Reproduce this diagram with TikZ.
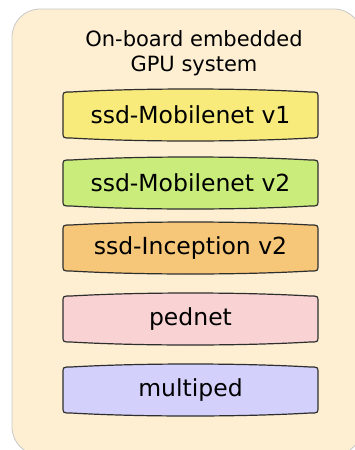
\documentclass[tikz,border=0pt]{standalone}
\usepackage{fontspec}
\setmainfont{DejaVu Sans}
\definecolor{outerfill}{HTML}{FEEFD3}
\definecolor{outerline}{HTML}{C8C8C8}
\definecolor{cA}{HTML}{F8EB7B}
\definecolor{cB}{HTML}{C9EC7B}
\definecolor{cC}{HTML}{F6C679}
\definecolor{cD}{HTML}{F9D3D3}
\definecolor{cE}{HTML}{D3D0FC}
\definecolor{edge}{HTML}{2E2E2E}
\tikzset{
  boxline/.style={draw=edge, line width=1.2pt},
  boxtext/.style={font=\fontsize{23.5}{28}\selectfont, text=black, inner sep=0pt},
}
\newcommand\gbox[4]{%
  \path[boxline, fill=#3]
    (63,#2+17) -- (63,#2-17) .. controls (63,#2-23) .. (71,#2-23)
    .. controls (140,#2-27) and (241,#2-27) .. (310,#2-23)
    .. controls (318,#2-23) .. (318,#2-17) -- (318,#2+17)
    .. controls (318,#2+23) .. (310,#2+23)
    .. controls (241,#2+27) and (140,#2+27) .. (71,#2+23)
    .. controls (63,#2+23) .. cycle;
  \node[boxtext] (#1) at (190.5,#2) {#4};
}
\begin{document}
\begin{tikzpicture}[x=1pt,y=-1pt]
\useasboundingbox (0,0) rectangle (355,450);
\draw[fill=outerfill, draw=outerline, line width=0.8pt, rounded corners=28pt] (12,9) rectangle (362,455);
\node[font=\fontsize{21}{25}\selectfont, align=center, inner sep=0pt] (title) at (194,53) {On-board embedded\\GPU system};
\gbox{m1}{115}{cA}{ssd-Mobilenet v1}
\gbox{m2}{183}{cB}{ssd-Mobilenet v2}
\gbox{m3}{248}{cC}{ssd-Inception v2}
\gbox{m4}{319}{cD}{pednet}
\gbox{m5}{390}{cE}{multiped}
\end{tikzpicture}
\end{document}
